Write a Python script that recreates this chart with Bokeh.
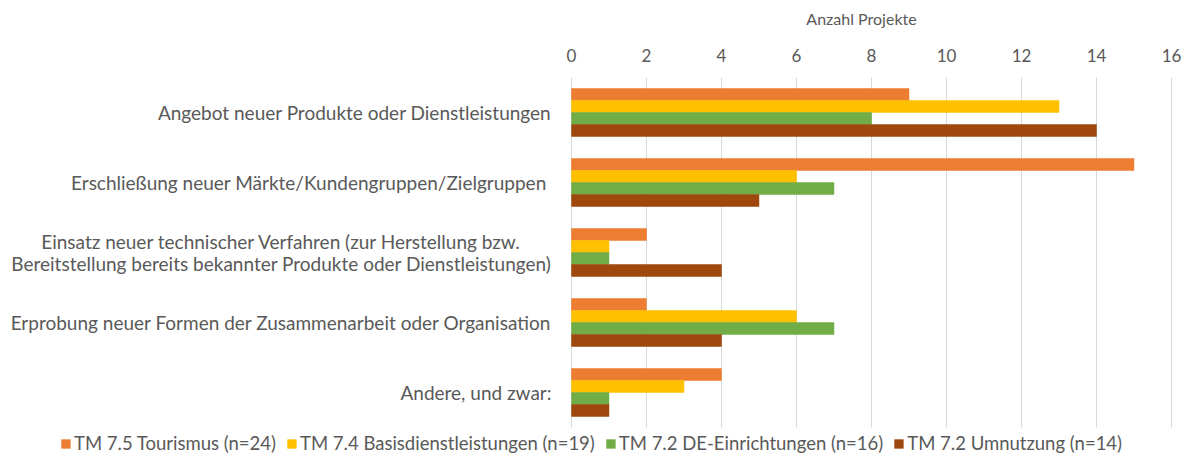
from bokeh.plotting import figure
from bokeh.models import (Range1d, Legend, LegendItem, ColumnDataSource,
                          FixedTicker, LabelSet, Label)
from bokeh.core.properties import value
from bokeh.transform import dodge
from bokeh.embed import file_html
from bokeh.resources import INLINE

categories = [
    "Angebot neuer Produkte oder Dienstleistungen",
    "Erschließung neuer Märkte/Kundengruppen/Zielgruppen",
    "Einsatz neuer technischer Verfahren (zur Herstellung bzw. Bereitstellung bereits bekannter Produkte oder Dienstleistungen)",
    "Erprobung neuer Formen der Zusammenarbeit oder Organisation",
    "Andere, und zwar:",
]
category_labels = [
    "Angebot neuer Produkte oder Dienstleistungen",
    "Erschließung neuer Märkte/Kundengruppen/Zielgruppen ",
    "Einsatz neuer technischer Verfahren (zur Herstellung bzw.\nBereitstellung bereits bekannter Produkte oder Dienstleistungen)",
    "Erprobung neuer Formen der Zusammenarbeit oder Organisation",
    "Andere, und zwar:",
]
series_names = [
    "TM 7.5 Tourismus (n=24)",
    "TM 7.4 Basisdienstleistungen (n=19)",
    "TM 7.2 DE-Einrichtungen (n=16)",
    "TM 7.2 Umnutzung (n=14)",
]
tourismus = [9, 15, 2, 2, 4]
basisdienst = [13, 6, 1, 6, 3]
de_einrichtungen = [8, 7, 1, 7, 1]
umnutzung = [14, 5, 4, 4, 1]
x_ticks = [0, 2, 4, 6, 8, 10, 12, 14, 16]
x_title = "Anzahl Projekte"

colors = ["#ED7D31", "#FFC000", "#70AD47", "#9E480E"]
FONT = "Lato"
GREY = "#595959"
LABEL_SIZE = "19px"
LINE_GAP = 22          # px between lines of a wrapped category label
PX_PER_UNIT = 37.5     # horizontal scale (px per project)
PX_PER_CAT = 70        # vertical space per category
PLOT_W, PLOT_H = 1182, 460
LEFT_PX = 571          # where x = 0 sits
RIGHT_PAD_PX = 11
TOP_PX = 77            # top of category area
TICK_LABEL_RAISE = 22  # tick labels sit this far above the category area
TITLE_RAISE = 59       # axis title sits this far above the category area
LEGEND_PX = PLOT_H - TOP_PX - PX_PER_CAT * len(categories)

n_cat = len(categories)
# category slot centres, first category on top (scale positions, not pixels)
ypos = [n_cat - 1 - i + 0.5 for i in range(n_cat)]

source = ColumnDataSource(dict(
    ypos=ypos, s0=tourismus, s1=basisdienst, s2=de_einrichtungen, s3=umnutzung))

x_start = -LEFT_PX / PX_PER_UNIT
x_end = x_ticks[-1] + RIGHT_PAD_PX / PX_PER_UNIT

p = figure(
    width=PLOT_W, height=PLOT_H,
    y_range=Range1d(-LEGEND_PX / PX_PER_CAT, n_cat + TOP_PX / PX_PER_CAT),
    x_range=Range1d(x_start, x_end),
    output_backend="svg", toolbar_location=None,
    min_border_left=0, min_border_right=0, min_border_top=0, min_border_bottom=0,
)
p.outline_line_color = None
p.title.visible = False
p.xaxis.visible = False
p.yaxis.visible = False

bar_h = 12 / PX_PER_CAT
offsets = [0.257, 0.086, -0.086, -0.257]
renderers = []
for i, (col, off) in enumerate(zip(colors, offsets)):
    r = p.hbar(y=dodge("ypos", off), right=f"s{i}", left=0, height=bar_h,
               source=source, fill_color=col, line_color=col, line_width=0.5)
    renderers.append(r)

p.xgrid.ticker = FixedTicker(ticks=x_ticks)
p.xgrid.grid_line_color = "#D9D9D9"
p.xgrid.grid_line_width = 1
p.xgrid.cross_bounds = (0, n_cat)
p.ygrid.grid_line_color = None

# value-axis tick labels and title (drawn above the category area)
tick_src = ColumnDataSource(dict(x=x_ticks, y=[n_cat] * len(x_ticks),
                                 text=[str(t) for t in x_ticks]))
p.add_layout(LabelSet(x="x", y="y", text="text", source=tick_src, y_offset=TICK_LABEL_RAISE,
                      text_align="center", text_baseline="middle", text_font=value(FONT),
                      text_font_size=value("17px"), text_color=GREY))
p.add_layout(Label(x=(x_ticks[0] + x_ticks[-1]) / 2, y=n_cat, text=x_title,
                   x_offset=-10, y_offset=TITLE_RAISE, text_align="center",
                   text_baseline="middle", text_font=FONT, text_font_size="16px",
                   text_color=GREY))

# category labels (single-line: right aligned; wrapped: centred lines)
single = dict(y=[], text=[], x=[])
multi = dict(y=[], text=[], x=[], dy=[])
for yc, lab in zip(ypos, category_labels):
    lines = lab.split("\n")
    if len(lines) == 1:
        single["y"].append(yc); single["text"].append(lab); single["x"].append(0)
    else:
        n = len(lines)
        for k, ln in enumerate(lines):
            multi["y"].append(yc); multi["text"].append(ln); multi["x"].append(0)
            multi["dy"].append(((n - 1) / 2 - k) * LINE_GAP)

label_style = dict(text_baseline="middle", text_font=value(FONT),
                   text_font_size=value(LABEL_SIZE), text_color=GREY)
p.add_layout(LabelSet(x="x", y="y", text="text", source=ColumnDataSource(single),
                      x_offset=-20, text_align="right", **label_style))
p.add_layout(LabelSet(x="x", y="y", text="text", y_offset="dy", source=ColumnDataSource(multi),
                      x_offset=-290, text_align="center", **label_style))

legend = Legend(
    items=[LegendItem(label=n, renderers=[r]) for n, r in zip(series_names, renderers)],
    orientation="horizontal", location="bottom_center",
    label_text_font=FONT, label_text_font_size="18.5px", label_text_color=GREY,
    glyph_width=11, glyph_height=11, spacing=10, label_standoff=3,
    border_line_color=None, background_fill_alpha=0, padding=0, margin=6,
)
p.add_layout(legend, "center")

open("out.html", "w").write(file_html(p, INLINE))
